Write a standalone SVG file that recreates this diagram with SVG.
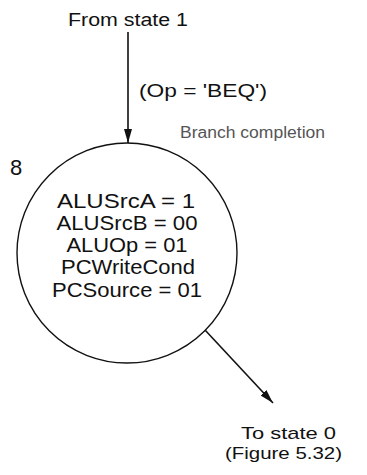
<svg xmlns="http://www.w3.org/2000/svg" width="367" height="475" viewBox="0 0 367 475">
  <style>
    text { font-family: "Liberation Sans", Arial, Helvetica, sans-serif; fill: #111; }
    .lbl { font-size: 18px; }
    .foot { font-size: 17px; }
    .state { font-size: 21px; text-anchor: middle; }
    .title { font-size: 16px; fill: #555; }
    .edge { stroke: #111; stroke-width: 1.6; fill: none; }
    .node { stroke: #111; stroke-width: 1.4; fill: none; }
  </style>
  <defs>
    <marker id="arrow" viewBox="0 0 14 8" refX="14" refY="4" markerWidth="14" markerHeight="8" markerUnits="userSpaceOnUse" orient="auto">
      <path d="M0,0 L14,4 L0,8 Z" fill="#111"/>
    </marker>
  </defs>

  <rect width="367" height="475" fill="#fff"/>

  <!-- transitions into and out of state 8 -->
  <g id="connectors">
    <line class="edge" x1="128" y1="32" x2="128" y2="143" marker-end="url(#arrow)"/>
    <line class="edge" x1="205" y1="330" x2="273" y2="403" marker-end="url(#arrow)"/>
  </g>

  <g id="from-state-1">
    <text class="lbl" x="68" y="26" textLength="120" lengthAdjust="spacingAndGlyphs">From state 1</text>
  </g>

  <g id="condition">
    <text class="lbl" x="139" y="97" textLength="128" lengthAdjust="spacingAndGlyphs">(Op = 'BEQ')</text>
  </g>

  <!-- state 8: branch completion -->
  <g id="state-8">
    <circle class="node" cx="127" cy="253" r="110"/>
    <text class="title" x="180" y="138" textLength="145" lengthAdjust="spacingAndGlyphs">Branch completion</text>
    <text class="lbl" x="10" y="175" style="font-size:22px">8</text>
    <text class="state" x="126" y="208" textLength="138" lengthAdjust="spacingAndGlyphs">ALUSrcA = 1</text>
    <text class="state" x="127" y="230" textLength="141" lengthAdjust="spacingAndGlyphs">ALUSrcB = 00</text>
    <text class="state" x="127" y="252" textLength="121" lengthAdjust="spacingAndGlyphs">ALUOp = 01</text>
    <text class="state" x="128" y="274" textLength="134" lengthAdjust="spacingAndGlyphs">PCWriteCond</text>
    <text class="state" x="127" y="297" textLength="150" lengthAdjust="spacingAndGlyphs">PCSource = 01</text>
  </g>

  <g id="to-state-0">
    <text class="foot" x="241" y="439" textLength="95" lengthAdjust="spacingAndGlyphs">To state 0</text>
    <text class="foot" x="225" y="459" textLength="117" lengthAdjust="spacingAndGlyphs">(Figure 5.32)</text>
  </g>
</svg>
